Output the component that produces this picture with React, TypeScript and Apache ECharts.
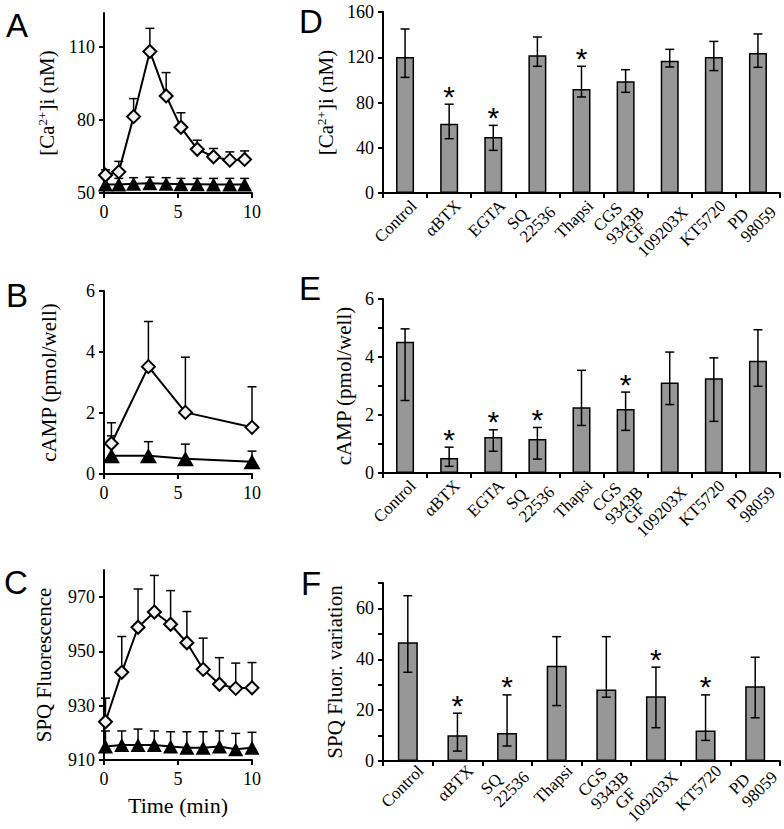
import React, { useEffect, useRef } from 'react';
import * as echarts from 'echarts';

// ---- Panel A: [Ca2+]i time course ----
const timeA = [0.1, 1.0, 2.0, 3.1, 4.2, 5.2, 6.3, 7.4, 8.5, 9.5];
const caStim = [57.3, 58.7, 81.4, 108.2, 89.9, 77.0, 68.0, 64.9, 63.5, 63.8];
const caStimTop = [59.5, 63.0, 88.8, 117.7, 99.5, 83.0, 71.7, 68.3, 66.9, 67.3];
const caCtrl = [53.5, 53.5, 53.8, 54.0, 53.8, 53.6, 53.6, 53.5, 53.5, 53.5];
const caCtrlTop = [56.0, 56.0, 56.3, 56.5, 56.3, 56.0, 56.0, 56.0, 56.0, 56.0];

// ---- Panel B: cAMP time course ----
const timeB = [0.5, 3, 5.5, 10];
const campStim = [1.0, 3.52, 2.02, 1.53];
const campStimTop = [1.68, 5.0, 3.83, 2.86];
const campCtrl = [0.6, 0.6, 0.5, 0.4];
const campCtrlTop = [1.25, 1.06, 0.98, 0.75];

// ---- Panel C: SPQ fluorescence time course ----
const timeC = [0.1, 1.2, 2.3, 3.4, 4.5, 5.6, 6.7, 7.8, 8.9, 10];
const spqStim = [924.1, 942.3, 958.9, 964.5, 960.0, 953.2, 943.4, 937.9, 936.4, 936.6];
const spqStimTop = [932.8, 955.5, 973.0, 978.0, 972.4, 964.7, 954.9, 947.7, 945.7, 945.9];
const spqCtrl = [915.0, 915.5, 915.5, 915.5, 915.0, 914.5, 914.5, 915.0, 914.0, 914.5];
const spqCtrlTop = [920.7, 920.7, 921.4, 920.7, 920.4, 920.4, 920.4, 920.7, 919.8, 920.2];

// ---- Panels D & E categories ----
const catsDE = ['Control', 'αBTX', 'EGTA', 'SQ\n22536', 'Thapsi', 'CGS\n9343B', 'GF\n109203X', 'KT5720', 'PD\n98059'];
// D: [Ca2+]i
const caBar = [120.2, 61.3, 49.5, 121.7, 92.0, 98.7, 117.0, 120.2, 123.7];
const caHi = [145.0, 78.5, 59.8, 137.9, 112.0, 109.0, 127.0, 134.0, 140.6];
const caLo = [102.2, 48.0, 37.7, 112.0, 84.9, 89.0, 111.4, 108.2, 111.1];
const caSig = [0, 1, 1, 0, 1, 0, 0, 0, 0];
// E: cAMP
const campBar = [4.53, 0.52, 1.24, 1.17, 2.27, 2.21, 3.12, 3.27, 3.87];
const campHi = [4.97, 0.89, 1.49, 1.57, 3.54, 2.79, 4.17, 3.97, 4.94];
const campLo = [2.5, 0.23, 0.75, 0.48, 1.64, 1.47, 2.36, 1.78, 2.99];
const campSig = [0, 1, 1, 1, 0, 1, 0, 0, 0];

// ---- Panel F ----
const catsF = ['Control', 'αBTX', 'SQ\n22536', 'Thapsi', 'CGS\n9343B', 'GF\n109203X', 'KT5720', 'PD\n98059'];
const spqBar = [46.7, 10.1, 11.0, 37.5, 28.1, 25.5, 12.0, 29.4];
const spqHi = [65.0, 18.8, 26.0, 48.9, 48.9, 36.9, 26.0, 40.8];
const spqLo = [34.9, 3.9, 5.9, 21.8, 25.1, 13.1, 8.1, 17.0];
const spqSig = [0, 1, 1, 0, 0, 1, 1, 0];

// ---- Axis ticks ----
const ticksA = [50, 80, 110];
const ticksB = [0, 2, 4, 6];
const ticksC = [910, 930, 950, 970];
const ticksX = [0, 5, 10];
const ticksD = [0, 40, 80, 120, 160];
const ticksE = [0, 1, 2, 3, 4, 5, 6];
const labelsE = [0, 2, 4, 6];
const ticksF = [0, 10, 20, 30, 40, 50, 60, 70];
const labelsF = [0, 20, 40, 60];

const serif = 'Liberation Serif';
const sans = 'Liberation Sans';
const black = '#000';
const catFont = 17;
const catLine = 18;

const supRich = {
  sup: { fontSize: 13, fontFamily: serif, color: black, verticalAlign: 'top', lineHeight: 13 },
};

function yAxisCfg(gridIndex: number, min: number, max: number, ticks: number[], labels: number[], name: string, nameGap: number) {
  return {
    type: 'value', gridIndex, min, max,
    axisLine: { show: true, lineStyle: { color: black, width: 2 } },
    axisTick: { show: true, length: 5, lineStyle: { color: black, width: 2 }, customValues: ticks },
    axisLabel: { color: black, fontSize: 18, fontFamily: serif, margin: 9, customValues: labels },
    splitLine: { show: false },
    name, nameLocation: 'middle', nameGap,
    nameTextStyle: { fontFamily: serif, fontSize: 21, color: black, rich: supRich },
  };
}

function xValueAxis(gridIndex: number, name?: string) {
  return {
    type: 'value', gridIndex, min: 0, max: 10,
    axisLine: { show: true, lineStyle: { color: black, width: 2 } },
    axisTick: { show: true, length: 5, lineStyle: { color: black, width: 2 }, customValues: ticksX },
    axisLabel: { color: black, fontSize: 18, fontFamily: serif, margin: 10, customValues: ticksX },
    splitLine: { show: false },
    name: name || '', nameLocation: 'middle', nameGap: 34,
    nameTextStyle: { fontFamily: serif, fontSize: 22, color: black },
  };
}

function xCatAxis(gridIndex: number, cats: string[]) {
  return {
    type: 'category', gridIndex, data: cats,
    axisLine: { show: true, lineStyle: { color: black, width: 2 } },
    axisTick: { show: true, length: 5, interval: 0, lineStyle: { color: black, width: 2 } },
    axisLabel: { show: false },
    splitLine: { show: false },
  };
}

const errStyle = { stroke: black, lineWidth: 1.5 };

function lineErrRender(capW: number) {
  return (params: any, api: any) => {
    const x = api.value(0), y = api.value(1), top = api.value(2);
    const p0 = api.coord([x, y]);
    const p1 = api.coord([x, top]);
    return {
      type: 'group',
      children: [
        { type: 'line', shape: { x1: p0[0], y1: p0[1], x2: p1[0], y2: p1[1] }, style: errStyle },
        { type: 'line', shape: { x1: p1[0] - capW / 2, y1: p1[1], x2: p1[0] + capW / 2, y2: p1[1] }, style: errStyle },
      ],
    };
  };
}

function barErrRender(capW: number) {
  return (params: any, api: any) => {
    const i = api.value(0), lo = api.value(1), hi = api.value(2), sig = api.value(3);
    const pl = api.coord([i, lo]);
    const ph = api.coord([i, hi]);
    const children: any[] = [
      { type: 'line', shape: { x1: pl[0], y1: pl[1], x2: ph[0], y2: ph[1] }, style: errStyle },
      { type: 'line', shape: { x1: ph[0] - capW / 2, y1: ph[1], x2: ph[0] + capW / 2, y2: ph[1] }, style: errStyle },
      { type: 'line', shape: { x1: pl[0] - capW / 2, y1: pl[1], x2: pl[0] + capW / 2, y2: pl[1] }, style: errStyle },
    ];
    if (sig) {
      children.push({
        type: 'text', x: ph[0], y: ph[1] - 8,
        style: { text: '*', fontSize: 30, fontFamily: sans, fill: black, align: 'center', verticalAlign: 'middle' },
      });
    }
    return { type: 'group', children };
  };
}

function pairs(xs: number[], ys: number[]) {
  return xs.map((x, i) => [x, ys[i]]);
}
function triples(xs: number[], ys: number[], ts: number[]) {
  return xs.map((x, i) => [x, ys[i], ts[i]]);
}
function barErrData(lo: number[], hi: number[], sig: number[]) {
  return lo.map((l, i) => [i, l, hi[i], sig[i]]);
}

function diamondSeries(idx: number, data: number[][]) {
  return {
    type: 'line', xAxisIndex: idx, yAxisIndex: idx, data, symbol: 'diamond', symbolSize: 13,
    itemStyle: { color: '#f2f2f2', borderColor: black, borderWidth: 2 },
    lineStyle: { color: black, width: 2 }, z: 4,
  };
}
function triSeries(idx: number, data: number[][], size: number[]) {
  return {
    type: 'line', xAxisIndex: idx, yAxisIndex: idx, data, symbol: 'triangle', symbolSize: size,
    itemStyle: { color: black, borderColor: black, borderWidth: 0 },
    lineStyle: { color: black, width: 2 }, z: 3,
  };
}
function lineErrSeries(idx: number, data: number[][]) {
  return {
    type: 'custom', xAxisIndex: idx, yAxisIndex: idx, data, renderItem: lineErrRender(9),
    encode: { x: 0, y: [1, 2] }, z: 2, clip: false,
  };
}
function barSeries(idx: number, data: number[], w: number) {
  return {
    type: 'bar', xAxisIndex: idx, yAxisIndex: idx, data, barWidth: w,
    itemStyle: { color: '#979797', borderColor: black, borderWidth: 1.5 }, z: 2,
  };
}
function barErrSeries(idx: number, data: number[][]) {
  return {
    type: 'custom', xAxisIndex: idx, yAxisIndex: idx, data, renderItem: barErrRender(9),
    encode: { x: 0, y: [1, 2] }, z: 3, clip: false,
  };
}

const letter = (t: string, x: number, y: number) => ({
  type: 'text', x, y,
  style: { text: t, fontSize: 33, fontFamily: sans, fill: black, align: 'left', verticalAlign: 'middle' },
});

const letters = [
  letter('A', 6, 25),
  letter('B', 6, 295),
  letter('C', 4, 582),
  letter('D', 299, 21),
  letter('E', 299, 288),
  letter('F', 301, 583),
];

const option: any = {
  animation: false,
  backgroundColor: '#fff',
  grid: [
    { left: 104, top: 13, width: 148, height: 180 },
    { left: 104, top: 291, width: 148, height: 183 },
    { left: 104, top: 570, width: 148, height: 190 },
    { left: 383, top: 12, width: 397, height: 181 },
    { left: 383, top: 299, width: 397, height: 174 },
    { left: 383, top: 583, width: 397, height: 178 },
  ],
  xAxis: [
    xValueAxis(0),
    xValueAxis(1),
    xValueAxis(2, 'Time (min)'),
    xCatAxis(3, catsDE),
    xCatAxis(4, catsDE),
    xCatAxis(5, catsF),
  ],
  yAxis: [
    yAxisCfg(0, 50, 124, ticksA, ticksA, '[Ca{sup|2+}]i (nM)', 47),
    yAxisCfg(1, 0, 6, ticksB, ticksB, 'cAMP (pmol/well)', 45),
    yAxisCfg(2, 910, 980, ticksC, ticksC, 'SPQ Fluorescence', 50),
    yAxisCfg(3, 0, 160, ticksD, ticksD, '[Ca{sup|2+}]i (nM)', 42),
    yAxisCfg(4, 0, 6, ticksE, labelsE, 'cAMP (pmol/well)', 24),
    yAxisCfg(5, 0, 70, ticksF, labelsF, 'SPQ Fluor. variation', 30),
  ],
  series: [
    lineErrSeries(0, triples(timeA, caCtrl, caCtrlTop)),
    lineErrSeries(0, triples(timeA, caStim, caStimTop)),
    triSeries(0, pairs(timeA, caCtrl), [15, 14]),
    diamondSeries(0, pairs(timeA, caStim)),

    lineErrSeries(1, triples(timeB, campCtrl, campCtrlTop)),
    lineErrSeries(1, triples(timeB, campStim, campStimTop)),
    triSeries(1, pairs(timeB, campCtrl), [17, 15]),
    diamondSeries(1, pairs(timeB, campStim)),

    lineErrSeries(2, triples(timeC, spqCtrl, spqCtrlTop)),
    lineErrSeries(2, triples(timeC, spqStim, spqStimTop)),
    triSeries(2, pairs(timeC, spqCtrl), [15, 14]),
    diamondSeries(2, pairs(timeC, spqStim)),

    barSeries(3, caBar, 18),
    barErrSeries(3, barErrData(caLo, caHi, caSig)),
    barSeries(4, campBar, 18),
    barErrSeries(4, barErrData(campLo, campHi, campSig)),
    barSeries(5, spqBar, 20),
    barErrSeries(5, barErrData(spqLo, spqHi, spqSig)),
  ],
  graphic: letters,
};

let measureCtx: CanvasRenderingContext2D | null = null;
function textWidth(s: string) {
  if (!measureCtx) {
    measureCtx = document.createElement('canvas').getContext('2d');
  }
  if (!measureCtx) return s.length * catFont * 0.5;
  measureCtx.font = `${catFont}px "${serif}"`;
  return measureCtx.measureText(s).width;
}

// Rotated (45°) category labels: each line is its own plain text element,
// lines left-aligned inside a block whose right-middle sits at the anchor.
function categoryLabels(chart: any, gridIndex: number, cats: string[], dx: number, dy: number) {
  const out: any[] = [];
  const c = Math.SQRT1_2;
  cats.forEach((cat, i) => {
    const p = chart.convertToPixel({ gridIndex }, [i, 0]);
    const ax = p[0] + dx;
    const ay = p[1] + dy;
    const lines = cat.split('\n');
    const w = Math.max(...lines.map(textWidth));
    lines.forEach((ln, k) => {
      const off = (k - (lines.length - 1) / 2) * catLine;
      const x = ax - w * c + off * c;
      const y = ay + w * c + off * c;
      out.push({
        type: 'text', x, y, rotation: Math.PI / 4,
        style: { text: ln, fontSize: catFont, fontFamily: serif, fill: black, align: 'left', verticalAlign: 'middle' },
      });
    });
  });
  return out;
}

export default function App() {
  const ref = useRef<HTMLDivElement>(null);
  useEffect(() => {
    document.body.style.margin = '0';
    const chart = echarts.init(ref.current as HTMLDivElement, null, { renderer: 'svg' });
    chart.setOption(option);
    const labels = [
      ...categoryLabels(chart, 3, catsDE, 9, 10),
      ...categoryLabels(chart, 4, catsDE, 8, 10),
      ...categoryLabels(chart, 5, catsF, 13, 7),
    ];
    chart.setOption({ graphic: [...letters, ...labels] });
    return () => chart.dispose();
  }, []);
  return <div ref={ref} style={{ width: 784, height: 829 }} />;
}
